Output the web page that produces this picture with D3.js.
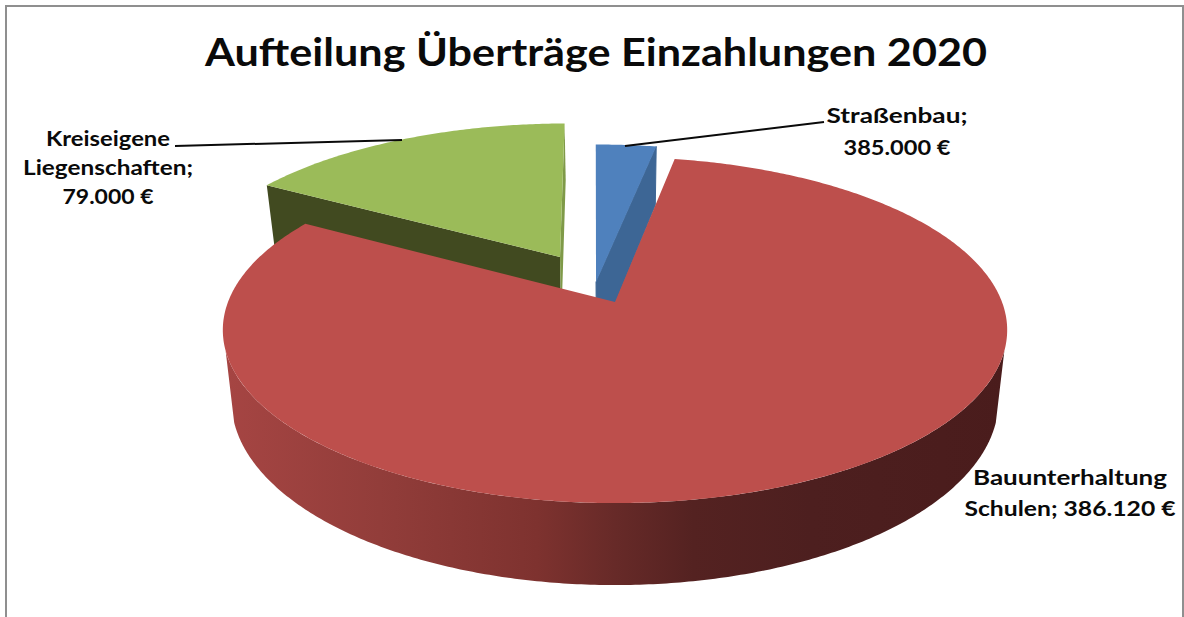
<!DOCTYPE html>
<html>
<head>
<meta charset="utf-8">
<script src="https://cdn.jsdelivr.net/npm/d3@7"></script>
<style>
  html, body { margin: 0; background: #fff; overflow: hidden; }
  text { font-family: Lato, "Open Sans", sans-serif; font-weight: 700; fill: #0a0a0a; }
</style>
</head>
<body>
<div id="chart"></div>
<script>
const titleText = "Aufteilung Überträge Einzahlungen 2020";
const categories = ["Straßenbau", "Bauunterhaltung Schulen", "Kreiseigene Liegenschaften"];
// shares as drawn in the picture (percent), the printed labels do not follow them
const shares = [3.0, 80.5, 16.5];
const valueLabels = ["385.000 €", "386.120 €", "79.000 €"];
const topColors = ["#4f81bd", "#bd4f4c", "#9bbb59"];
const wallColors = ["#3d6695", "#5a2222", "#414a20"];

const width = 1184, height = 617;
const cx = 615, cy = 302;      // apex of the red slice
const rx = 387, ry = 168.5;    // plane scale
const persp = 0.162;           // nearer points get bigger
const depth = 68.7;
const shrink = 0.022;          // bottom rim sits a little further away
const rotation = -0.5 * Math.PI / 180;

// explode offset and radius per slice, in units of the pie radius
const explode = [[-0.05, -0.121, 0.98], [0, 0, 1], [-0.1485, -0.279, 1]];

const svg = d3.select("#chart").append("svg")
    .attr("width", width)
    .attr("height", height);

function project(X, Y, low) {
    const w = 1 / (1 - persp * Y);
    let x = cx + rx * X * w;
    let y = cy + ry * Y * w;
    if (low) {
        x = cx + (x - cx) * (1 - shrink);
        y += depth * w;
    }
    return [x, y];
}

const arcs = d3.pie().sort(null)
    .startAngle(rotation)
    .endAngle(rotation + 2 * Math.PI)(shares);
const line = d3.line();

function rim(i, a0, a1, low) {
    const e = explode[i];
    const n = Math.max(2, Math.ceil(Math.abs(a1 - a0) / 0.01));
    return d3.range(n + 1).map(k => {
        const a = a0 + (a1 - a0) * k / n;
        return project(e[0] + e[2] * Math.sin(a), e[1] - e[2] * Math.cos(a), low);
    });
}

function apex(i, low) {
    return project(explode[i][0], explode[i][1], low);
}

const defs = svg.append("defs");
const grad = defs.append("linearGradient")
    .attr("id", "redWall")
    .attr("gradientUnits", "userSpaceOnUse")
    .attr("x1", cx - 392).attr("x2", cx + 392)
    .attr("y1", 0).attr("y2", 0);
[[0, "#a64543"], [0.2, "#923d3a"], [0.4, "#7e322f"], [0.5, "#672a28"], [0.6, "#542221"], [0.75, "#4d1f1f"], [1, "#4a1c1c"]]
    .forEach(s => grad.append("stop").attr("offset", s[0]).attr("stop-color", s[1]));

const frame = svg.append("g").attr("stroke", "#8f8f8f").attr("stroke-width", 2);
frame.append("line").attr("x1", 6).attr("x2", 6).attr("y1", 5).attr("y2", height);
frame.append("line").attr("x1", 5).attr("x2", 1184).attr("y1", 6).attr("y2", 6);
frame.append("line").attr("x1", 1183).attr("x2", 1183).attr("y1", 5).attr("y2", height);

const pieG = svg.append("g");

// green first, it is furthest back
function drawGreen() {
    const i = 2, d = arcs[i];
    const topRim = rim(i, d.startAngle, d.endAngle, false);
    const lowRim = rim(i, d.startAngle, d.endAngle, true);
    pieG.append("path")
        .attr("d", line([topRim[0], apex(i, false), apex(i, true), lowRim[0]]) + "Z")
        .attr("fill", wallColors[i]);
    pieG.append("path")
        .attr("d", line([topRim[topRim.length - 1], apex(i, false), apex(i, true), lowRim[lowRim.length - 1]]) + "Z")
        .attr("fill", "#7f9a48");
    pieG.append("path")
        .attr("d", line([apex(i, false)].concat(topRim)) + "Z")
        .attr("fill", topColors[i]);
}

function drawBlue() {
    const i = 0, d = arcs[i];
    const topRim = rim(i, d.startAngle, d.endAngle, false);
    const lowRim = rim(i, d.startAngle, d.endAngle, true);
    pieG.append("path")
        .attr("d", line([topRim[topRim.length - 1], apex(i, false), apex(i, true), lowRim[lowRim.length - 1]]) + "Z")
        .attr("fill", wallColors[i])
        .attr("stroke", wallColors[i]);
    pieG.append("path")
        .attr("d", line([apex(i, false)].concat(topRim)) + "Z")
        .attr("fill", topColors[i]);
}

function drawRed() {
    const i = 1, d = arcs[i];
    // only the front of the rim shows, the side edges run between these two angles
    const a0 = 106 * Math.PI / 180, a1 = 254 * Math.PI / 180;
    const topFront = rim(i, a0, a1, false);
    const lowFront = rim(i, a0, a1, true);
    pieG.append("path")
        .attr("d", line(topFront.concat(lowFront.reverse())) + "Z")
        .attr("fill", "url(#redWall)");
    pieG.append("path")
        .attr("d", line([apex(i, false)].concat(rim(i, d.startAngle, d.endAngle, false))) + "Z")
        .attr("fill", topColors[i]);
}

drawGreen();
drawBlue();
drawRed();

// leader lines
const leaders = svg.append("g").attr("stroke", "#0a0a0a").attr("stroke-width", 2).attr("fill", "none");
leaders.append("path").attr("d", line([[175, 146], [402, 140]]));
leaders.append("path").attr("d", line([[625, 146], [824, 122]]));

svg.append("text")
    .attr("x", 596).attr("y", 66)
    .attr("text-anchor", "middle")
    .attr("font-size", 39)
    .attr("textLength", 782)
    .attr("lengthAdjust", "spacingAndGlyphs")
    .text(titleText);

// the original font runs wider than Lato, so each line is stretched to its measured width
function label(x, lines, baselines, widths) {
    lines.forEach((t, k) => {
        svg.append("text")
            .attr("x", x).attr("y", baselines[k])
            .attr("text-anchor", "middle")
            .attr("font-size", 20.5)
            .attr("textLength", widths[k])
            .attr("lengthAdjust", "spacingAndGlyphs")
            .text(t);
    });
}

label(897, ["Straßenbau;", valueLabels[0]], [123, 155], [141, 107]);
label(1070, ["Bauunterhaltung", "Schulen; " + valueLabels[1]], [485, 516], [194, 211]);
label(108, ["Kreiseigene", "Liegenschaften;", valueLabels[2]], [146, 175, 204], [124, 170, 91]);
</script>
</body>
</html>
